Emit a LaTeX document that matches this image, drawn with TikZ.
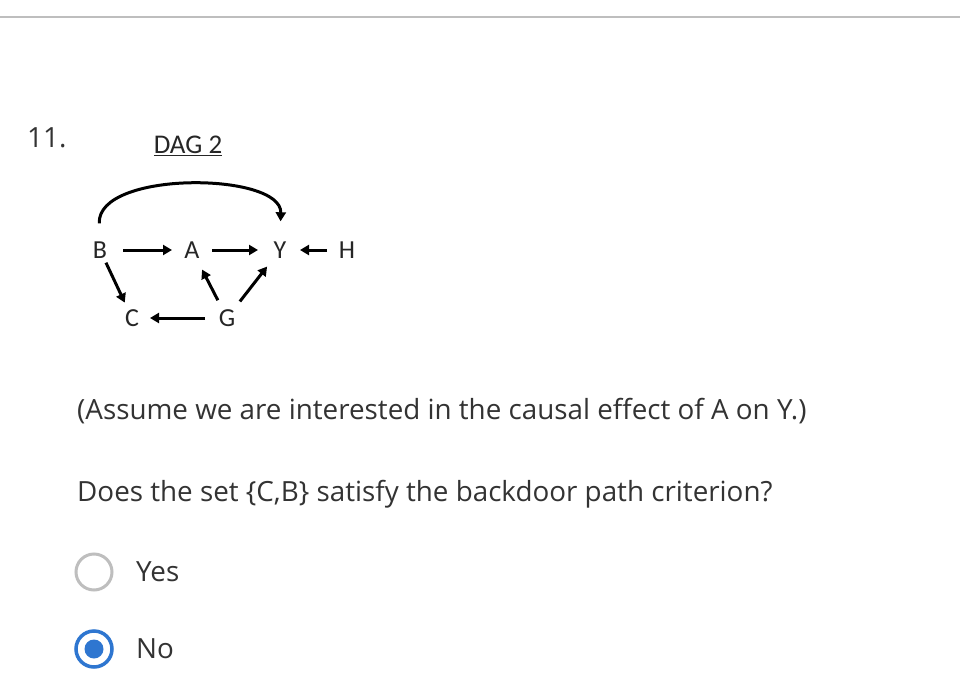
\documentclass[tikz,border=0pt]{standalone}
\usepackage{fontspec}
\setmainfont{Open Sans}
\newfontfamily\dagfont{Carlito}
\usetikzlibrary{arrows.meta}
\definecolor{txt}{RGB}{51,51,51}
\definecolor{rule}{RGB}{190,190,190}
\definecolor{radioblue}{RGB}{46,118,208}
\begin{document}
\begin{tikzpicture}[x=1pt,y=-1pt,
  qtext/.style={anchor=west,inner sep=0pt,text=txt,font=\fontsize{27.8}{32}\selectfont},
  dagnode/.style={inner sep=0pt,text height=17pt,text depth=0pt,font=\dagfont\fontsize{26}{30}\selectfont,text=black!85},
  dagarrow/.style={line width=3pt,-{Triangle[length=9pt,width=10pt]}}]
\useasboundingbox (0,0) rectangle (960,682);
\fill[white] (0,0) rectangle (960,682);
% top rule
\draw[rule,line width=2pt] (0,17) -- (960,17);
% question number
\node[qtext] (num) at (27,138) {11.};
% title
\node[inner sep=0pt,font=\dagfont\fontsize{27}{30}\selectfont,text=black!85] (title) at (188,146) {\underline{DAG 2}};
% DAG nodes
\node[dagnode] (B) at (100,250) {B};
\node[dagnode] (A) at (192,250) {A};
\node[dagnode] (Y) at (280,250) {Y};
\node[dagnode] (H) at (347,250) {H};
\node[dagnode] (C) at (132,318) {C};
\node[dagnode] (G) at (227,318) {G};
% edges
\draw[dagarrow,shorten <=23pt,shorten >=20pt] (B.center) -- (A.center);
\draw[dagarrow,shorten <=20pt,shorten >=22pt] (A.center) -- (Y.center);
\draw[dagarrow,shorten <=20pt,shorten >=20pt] (H.center) -- (Y.center);
\draw[dagarrow,shorten <=14pt,shorten >=17pt] (B.center) -- (C.center);
\draw[dagarrow,shorten <=20pt,shorten >=22pt] (G.center) -- (A.center);
\draw[dagarrow,shorten <=21pt,shorten >=21pt] (G.center) -- (Y.center);
\draw[dagarrow,shorten <=22pt,shorten >=18pt] (G.center) -- (C.center);
\draw[dagarrow,shorten <=18pt,shorten >=20pt] (B.north) .. controls (97,170) and (282,172) .. (Y.north);
% question text
\node[qtext] (assume) at (77,411) {(Assume we are interested in the causal effect of A on Y.)};
\node[qtext] (ask) at (77,494) {Does the set \{C,B\} satisfy the backdoor path criterion?};
% radio buttons
\node[circle,draw=rule,line width=3pt,minimum size=36pt,inner sep=0pt] (r1) at (94,572) {};
\node[qtext] (yes) at (136,572) {Yes};
\node[circle,draw=radioblue,line width=3.5pt,minimum size=36pt,inner sep=0pt,fill=white] (r2) at (94,649) {};
\node[circle,fill=radioblue,minimum size=19pt,inner sep=0pt] (r2dot) at (r2.center) {};
\node[qtext] (no) at (136,649) {No};
\end{tikzpicture}
\end{document}
